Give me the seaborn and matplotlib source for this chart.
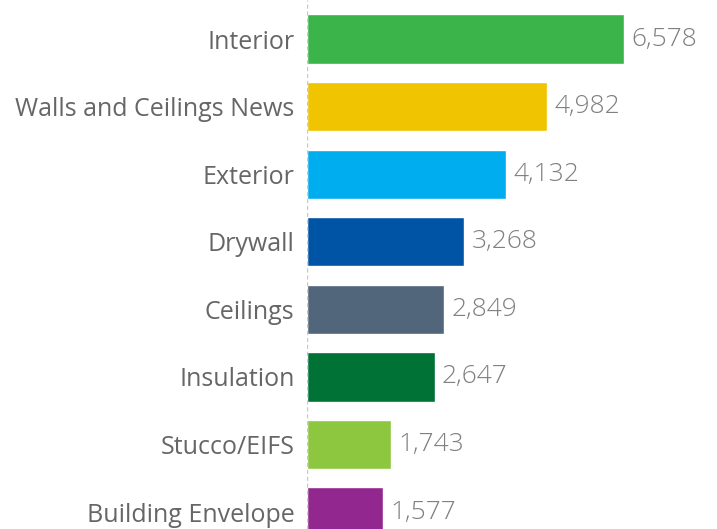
import pandas as pd
import matplotlib.pyplot as plt
import seaborn as sns

# values
categories = ['Interior', 'Walls and Ceilings News', 'Exterior', 'Drywall',
              'Ceilings', 'Insulation', 'Stucco/EIFS', 'Building Envelope']
counts = [6578, 4982, 4132, 3268, 2849, 2647, 1743, 1577]
colors = ['#3BB44A', '#F0C400', '#00ADEF', '#0054A6',
          '#51667B', '#007236', '#8DC63F', '#92278F']

data = pd.DataFrame({'Category': categories, 'Count': counts})

sns.set_style('white')
plt.rcParams['font.family'] = ['Open Sans', 'DejaVu Sans']

fig = plt.figure(figsize=(7.17, 5.29), dpi=100)
ax = fig.add_axes([307 / 717, 0, 1 - 307 / 717, 1])

sns.barplot(data=data, x='Count', y='Category', hue='Category',
            palette=colors, saturation=1, orient='h', width=0.73,
            legend=False, ax=ax)

# scale so Interior bar ends near pixel 624
ax.set_xlim(0, 410 / (317 / 6578))
ax.set_ylim(7.249, -0.577)

for i, v in enumerate(counts):
    ax.text(v + 150, i, f'{v:,}', va='center', ha='left',
            fontsize=19, color='#808080', fontweight='light')

ax.axvline(0, color='#c8c8c8', linestyle=(0, (3, 2)), linewidth=1)

ax.set_xlabel('')
ax.set_ylabel('')
ax.set_xticks([])
ax.tick_params(axis='y', length=0, pad=9, labelsize=18, labelcolor='#666666')
sns.despine(ax=ax, left=True, bottom=True, top=True, right=True)

plt.savefig('out.png', dpi=100)
